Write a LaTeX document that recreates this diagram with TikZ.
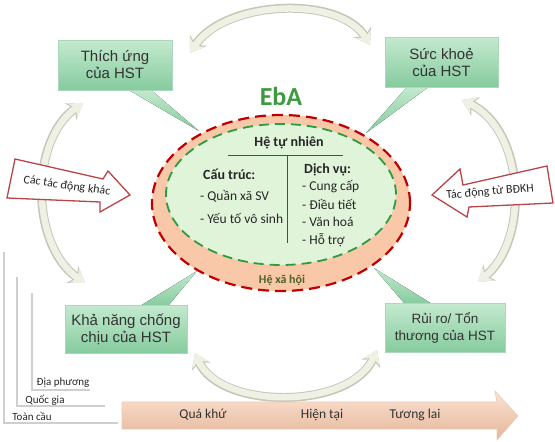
\documentclass[tikz,border=0pt]{standalone}
\usepackage{fontspec}
\setmainfont{Carlito}
\newfontfamily\arialf{Liberation Sans}
\usetikzlibrary{arrows.meta,calc}
\definecolor{boxtop}{HTML}{C4EACF}
\definecolor{boxbot}{HTML}{86CB9E}
\definecolor{boxedge}{HTML}{A9D9BA}
\definecolor{peach}{HTML}{F9C8A8}
\definecolor{redd}{HTML}{C00000}
\definecolor{greend}{HTML}{2E9B3E}
\definecolor{innerg}{HTML}{E0F4DA}
\definecolor{ebag}{HTML}{3D9A3D}
\definecolor{olive}{HTML}{4F6228}
\definecolor{arrred}{HTML}{B9444A}
\definecolor{bendfill}{HTML}{EEF1E3}
\definecolor{bendedge}{HTML}{C3C7B8}
\definecolor{tltop}{HTML}{FBE3D3}
\definecolor{tlbot}{HTML}{E5B598}
\definecolor{tledge}{HTML}{EBCBB8}
\definecolor{scaleline}{HTML}{CFCFCF}
\begin{document}
\begin{tikzpicture}[x=1pt,y=-1pt,
  hstbox/.style={shape=rectangle, top color=boxtop, bottom color=boxbot, draw=boxedge,
    line width=1pt, font=\arialf\fontsize{15}{17}\selectfont, text=black!80, align=center, inner sep=0pt},
  tail/.style={top color=boxtop, bottom color=boxbot},
  bendarrow/.style={line width=6.5pt, draw=bendfill,
    {Stealth[length=13pt,width=17pt]}-{Stealth[length=13pt,width=17pt]},
    preaction={draw=bendedge, line width=9pt,
      {Stealth[length=15pt,width=20pt]}-{Stealth[length=15pt,width=20pt]}}},
  widearrow/.style={draw=arrred, line width=1.3pt, fill=white, line join=miter},
  ebatext/.style={font=\fontsize{13.5}{16}\selectfont, text=black!85, inner sep=0pt},
  ebahead/.style={font=\bfseries\fontsize{14}{16}\selectfont, text=black!85, inner sep=0pt},
  arrlabel/.style={font=\fontsize{12}{14}\selectfont, text=black!85, inner sep=0pt},
  scalelabel/.style={font=\fontsize{11}{13}\selectfont, text=black!85, inner sep=0pt},
  scalel/.style={draw=scaleline, line width=1.6pt},
  tllabel/.style={font=\fontsize{13.5}{16}\selectfont, text=black!80, inner sep=0pt}
]
\useasboundingbox (0,0) rectangle (555,442);

% ---- curved arrows (behind) ----
\coordinate (ta1) at (190,53);
\coordinate (ta2) at (370,45);
\draw[bendarrow] (ta1) .. controls (225,0) and (340,-5) .. (ta2);
\coordinate (la1) at (83,103);
\coordinate (la2) at (85,283);
\draw[bendarrow] (la1) .. controls (30,140) and (30,245) .. (la2);
\coordinate (ra1) at (462,100);
\coordinate (ra2) at (478,282);
\draw[bendarrow] (ra1) .. controls (525,130) and (530,240) .. (ra2);
\coordinate (ba1) at (195,353);
\coordinate (ba2) at (377,350);
\draw[bendarrow] (ba1) .. controls (220,410) and (350,410) .. (ba2);

% ---- callout tails ----
\fill[tail] (127,89) -- (150,89) -- (199,131) -- cycle;
\fill[tail] (408,86) -- (430,86) -- (366,133) -- cycle;
\fill[tail] (140,306) -- (168,306) -- (197,271) -- cycle;
\fill[tail] (405,304) -- (432,304) -- (374,268) -- cycle;

% ---- ellipses ----
\draw[fill=peach, draw=redd, line width=2.2pt, dash pattern=on 11pt off 6pt]
  (281,203) ellipse [x radius=129pt, y radius=88pt];
\draw[fill=innerg, draw=greend, line width=1.8pt, dash pattern=on 10pt off 6pt]
  (281,194.5) ellipse [x radius=115pt, y radius=70.5pt];

\node[font=\bfseries\fontsize{26}{30}\selectfont, text=ebag, inner sep=0pt] (eba) at (281,96) {EbA};
\node[ebahead] (tunhien) at (289,143) {Hệ tự nhiên};
\coordinate (hl1) at (228,155);
\coordinate (hl2) at (343,155);
\coordinate (vl1) at (287,155);
\coordinate (vl2) at (287,243);
\draw[black!70, line width=0.8pt] (hl1) -- (hl2);
\draw[black!70, line width=0.8pt] (vl1) -- (vl2);
\node[ebahead, anchor=west] (cautruc) at (203,174) {Cấu trúc:};
\node[ebatext, anchor=west] (qx) at (200,196) {- Quần xã SV};
\node[ebatext, anchor=west] (yt) at (200,218) {- Yếu tố vô sinh};
\node[ebahead, anchor=west] (dichvu) at (304,170) {Dịch vụ:};
\node[ebatext, anchor=west] (cc) at (302,187) {- Cung cấp};
\node[ebatext, anchor=west] (dt) at (302,204) {- Điều tiết};
\node[ebatext, anchor=west] (vh) at (302,222) {- Văn hoá};
\node[ebatext, anchor=west] (ht) at (302,240) {- Hỗ trợ};
\node[font=\bfseries\fontsize{12}{14}\selectfont, text=olive, inner sep=0pt] (xahoi) at (282,280) {Hệ xã hội};

% ---- boxes ----
\node[hstbox, minimum width=114pt, minimum height=50pt] (thich) at (115,65) {Thích ứng\\của HST};
\node[hstbox, minimum width=113pt, minimum height=50pt] (suckhoe) at (441.5,62) {Sức khoẻ\\của HST};
\node[hstbox, minimum width=122pt, minimum height=48pt] (khanang) at (126,329) {Khả năng chống\\chịu của HST};
\node[hstbox, minimum width=120pt, minimum height=49pt, font=\arialf\fontsize{13.5}{17}\selectfont] (ruiro) at (445,327.5) {Rủi ro/ Tổn\\thương của HST};

% ---- wide arrows ----
\draw[widearrow] (15,159) -- (103,179) -- (108,171) -- (130,195) -- (100,212) -- (100,202) -- (7,198) -- cycle;
\node[arrlabel, rotate=-8] (khac) at (67,186) {Các tác động khác};
\draw[widearrow] (547,166) -- (463,185) -- (460,169) -- (432,195) -- (467,217) -- (469,207) -- (553,203) -- cycle;
\node[arrlabel, rotate=5] (bdkh) at (490,192) {Tác động từ BĐKH};

% ---- scale lines ----
\coordinate (s1a) at (4,252);
\coordinate (s1b) at (4,423);
\coordinate (s1c) at (118,423);
\draw[scalel] (s1a) -- (s1b) -- (s1c);
\coordinate (s2a) at (17,277);
\coordinate (s2b) at (17,406);
\coordinate (s2c) at (105,406);
\draw[scalel] (s2a) -- (s2b) -- (s2c);
\coordinate (s3a) at (32,293);
\coordinate (s3b) at (32,390);
\coordinate (s3c) at (90,390);
\draw[scalel] (s3a) -- (s3b) -- (s3c);
\node[scalelabel] (diaphuong) at (63,383) {Địa phương};
\node[scalelabel] (quocgia) at (45,400) {Quốc gia};
\node[scalelabel] (toancau) at (32,416) {Toàn cầu};

% ---- timeline ----
\draw[top color=tltop, bottom color=tlbot, draw=tledge, line width=0.6pt]
  (122,402) -- (497,402) -- (495,391) -- (518,416) -- (497,440) -- (497,429) -- (122,429) -- cycle;
\node[tllabel] (quakhu) at (203,415) {Quá khứ};
\node[tllabel] (hientai) at (322,415) {Hiện tại};
\node[tllabel] (tuonglai) at (415,415) {Tương lai};
\end{tikzpicture}
\end{document}
